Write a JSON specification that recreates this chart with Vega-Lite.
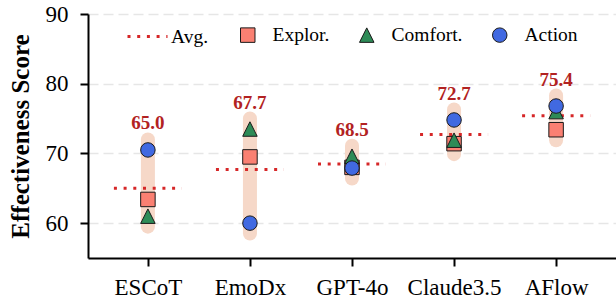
{
  "$schema": "https://vega.github.io/schema/vega-lite/v6.json",
  "width": 528,
  "height": 244,
  "autosize": "none",
  "padding": {"left": 88, "top": 14, "right": 0, "bottom": 43},
  "background": "white",
  "config": {
    "font": "Liberation Serif",
    "view": {"stroke": null},
    "axis": {
      "labelColor": "black",
      "tickColor": "black",
      "domainColor": "black",
      "domainWidth": 2,
      "tickWidth": 2,
      "tickSize": 8,
      "labelFontSize": 23,
      "labelFont": "Liberation Serif"
    },
    "legend": {
      "labelFont": "Liberation Serif",
      "labelColor": "black",
      "labelFontSize": 19.5,
      "padding": 0,
      "offset": 0
    }
  },
  "datasets": {
    "points": [
      {"model": "ESCoT", "metric": "Explor.", "value": 63.4},
      {"model": "ESCoT", "metric": "Comfort.", "value": 61.0},
      {"model": "ESCoT", "metric": "Action", "value": 70.5},
      {"model": "EmoDx", "metric": "Explor.", "value": 69.5},
      {"model": "EmoDx", "metric": "Comfort.", "value": 73.5},
      {"model": "EmoDx", "metric": "Action", "value": 60.0},
      {"model": "GPT-4o", "metric": "Explor.", "value": 68.0},
      {"model": "GPT-4o", "metric": "Comfort.", "value": 69.6},
      {"model": "GPT-4o", "metric": "Action", "value": 67.9},
      {"model": "Claude3.5", "metric": "Explor.", "value": 71.4},
      {"model": "Claude3.5", "metric": "Comfort.", "value": 71.9},
      {"model": "Claude3.5", "metric": "Action", "value": 74.8},
      {"model": "AFlow", "metric": "Explor.", "value": 73.4},
      {"model": "AFlow", "metric": "Comfort.", "value": 76.0},
      {"model": "AFlow", "metric": "Action", "value": 76.8}
    ],
    "summary": [
      {"model": "ESCoT", "avg": 65.0, "lo": 59.5, "hi": 72.0},
      {"model": "EmoDx", "avg": 67.7, "lo": 58.5, "hi": 75.0},
      {"model": "GPT-4o", "avg": 68.5, "lo": 66.4, "hi": 71.1},
      {"model": "Claude3.5", "avg": 72.7, "lo": 69.9, "hi": 76.3},
      {"model": "AFlow", "avg": 75.4, "lo": 71.9, "hi": 78.3}
    ]
  },
  "encoding": {
    "x": {
      "field": "model",
      "type": "nominal",
      "scale": {"type": "point", "padding": 0.587, "domain": ["ESCoT", "EmoDx", "GPT-4o", "Claude3.5", "AFlow"]},
      "axis": {"title": null, "labelAngle": 0, "labelPadding": 10, "grid": false}
    }
  },
  "layer": [
    {
      "data": {"name": "summary"},
      "mark": {"type": "rule", "strokeWidth": 14, "strokeCap": "round", "color": "#F6D8C8"},
      "encoding": {
        "y": {
          "field": "lo",
          "type": "quantitative",
          "scale": {"domain": [55, 90], "nice": false, "zero": false},
          "axis": {
            "values": [60, 70, 80, 90],
            "grid": true,
            "gridDash": [10, 5],
            "gridColor": "#e6e6e6",
            "gridWidth": 1.5,
            "labelPadding": 12,
            "title": "Effectiveness Score",
            "titleFont": "Liberation Serif",
            "titleFontSize": 25,
            "titleFontWeight": "bold",
            "titleColor": "black",
            "titleX": -60,
            "titleY": 122,
            "titleAngle": 270,
            "titleAlign": "center",
            "titleBaseline": "alphabetic"
          }
        },
        "y2": {"field": "hi"}
      }
    },
    {
      "data": {"name": "summary"},
      "mark": {"type": "rule", "strokeWidth": 3, "color": "#D62728", "xOffset": -34, "x2Offset": 34},
      "encoding": {
        "x2": {"field": "model"},
        "y": {"field": "avg", "type": "quantitative"},
        "strokeDash": {
          "datum": "Avg.",
          "scale": {"range": [[3, 6.7]]},
          "legend": {
            "orient": "none",
            "legendX": 38,
            "legendY": 1,
            "title": null,
            "symbolType": "stroke",
            "symbolSize": 1600,
            "symbolStrokeColor": "#D62728",
            "symbolStrokeWidth": 3,
            "labelOffset": 2,
            "encode": {"symbols": {"update": {"strokeDash": {"value": [3, 4.4]}, "stroke": {"value": "#D62728"}}}}
          }
        }
      }
    },
    {
      "data": {"name": "points"},
      "mark": {"type": "point", "filled": true, "size": 210, "stroke": "#1a1a1a", "strokeWidth": 1, "opacity": 1},
      "encoding": {
        "y": {"field": "value", "type": "quantitative"},
        "color": {
          "field": "metric",
          "type": "nominal",
          "scale": {"domain": ["Explor.", "Comfort.", "Action"], "range": ["#FA8072", "#2E8B57", "#4169E1"]},
          "legend": {
            "orient": "none",
            "legendX": 150,
            "legendY": 11,
            "direction": "horizontal",
            "columns": 3,
            "title": null,
            "symbolSize": 210,
            "symbolStrokeColor": "#1a1a1a",
            "symbolStrokeWidth": 1,
            "symbolOpacity": 1,
            "columnPadding": 27,
            "labelOffset": 15
          }
        },
        "shape": {
          "field": "metric",
          "type": "nominal",
          "scale": {"domain": ["Explor.", "Comfort.", "Action"], "range": ["square", "M0,-1L1,1L-1,1Z", "circle"]}
        }
      }
    },
    {
      "data": {"name": "summary"},
      "mark": {"type": "text", "dy": -10, "baseline": "alphabetic", "fontSize": 19, "fontWeight": "bold", "color": "#B22222", "font": "Liberation Serif"},
      "encoding": {
        "y": {"field": "hi", "type": "quantitative"},
        "text": {"field": "avg", "type": "quantitative", "format": ".1f"}
      }
    }
  ]
}
